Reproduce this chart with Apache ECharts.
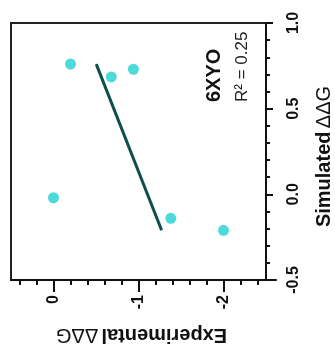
<!DOCTYPE html>
<html>
<head>
<meta charset="utf-8">
<script src="https://cdn.jsdelivr.net/npm/echarts@6/dist/echarts.min.js"></script>
<style>
html,body{margin:0;padding:0;background:#fff;}
#chart{width:335px;height:345px;}
</style>
</head>
<body>
<div id="chart"></div>
<script>
// Data
const experimental = [-0.2, -0.68, -0.94, 0, -1.38, -2.0];
const simulated    = [0.76, 0.685, 0.73, -0.02, -0.14, -0.21];
// regression line endpoints (experimental regressed on simulated)
const fitExperimental = [-0.503, -1.272];
const fitSimulated    = [0.76, -0.21];
// ticks
const expMajorTicks = [0, -1, -2];
const expMinorTicks = [0.4, 0.2, -0.2, -0.4, -0.6, -0.8, -1.2, -1.4, -1.6, -1.8, -2.2, -2.4];
const simTickInterval = 0.5;
const annotationTitle = '6XYO';
const annotationR2 = 'R\u00B2 = 0.25';

const FONT = '"Liberation Sans", Arial, sans-serif';
const chart = echarts.init(document.getElementById('chart'), null, {renderer: 'canvas'});

const points = experimental.map((e, i) => [e, simulated[i]]);
const fit = fitExperimental.map((e, i) => [e, fitSimulated[i]]);

const nameRich = {
  b: {fontFamily: FONT, fontWeight: 'bold', fontSize: 20, color: '#111'},
  n: {fontFamily: FONT, fontWeight: 'normal', fontSize: 20, color: '#111'}
};

chart.setOption({
  animation: false,
  backgroundColor: '#ffffff',
  grid: [
    {left: 11, top: 23, width: 255, height: 257, show: true, borderColor: '#222', borderWidth: 2,
      backgroundColor: 'transparent', containLabel: false, outerBoundsMode: 'none'},
    {left: 11, top: 23, width: 265, height: 257, show: false, containLabel: false, outerBoundsMode: 'none'}
  ],
  xAxis: [
    { // data axis for box grid, carries the name
      gridIndex: 0, type: 'value', inverse: true, min: -2.5, max: 0.5,
      axisLine: {show: false}, axisTick: {show: false}, axisLabel: {show: false}, splitLine: {show: false},
      name: '{b|Experimental} {n|\u0394\u0394G}', nameLocation: 'middle', nameGap: 45, nameRotate: 180,
      nameTextStyle: {rich: nameRich, padding: [0, 6, 0, 0]}
    },
    { // visible bottom axis (extends beyond box)
      gridIndex: 1, type: 'value', inverse: true, min: -2.62, max: 0.5,
      axisLine: {show: true, onZero: false, lineStyle: {color: '#111', width: 2}},
      axisTick: {show: true, customValues: expMajorTicks, length: 12, lineStyle: {color: '#111', width: 2}},
      axisLabel: {show: true, customValues: expMajorTicks, rotate: 90, margin: 15,
        fontFamily: FONT, fontWeight: 'bold', fontSize: 16, color: '#111',
        formatter: v => String(v)},
      splitLine: {show: false}
    },
    { // minor ticks
      gridIndex: 1, type: 'value', inverse: true, min: -2.62, max: 0.5, position: 'bottom',
      axisLine: {show: false, onZero: false},
      axisTick: {show: true, customValues: expMinorTicks, length: 5, lineStyle: {color: '#111', width: 2}},
      axisLabel: {show: false}, splitLine: {show: false}
    }
  ],
  yAxis: [
    {
      gridIndex: 0, type: 'value', position: 'right', min: -0.5, max: 1.0, interval: simTickInterval,
      axisLine: {show: true, onZero: false, lineStyle: {color: '#111', width: 2}},
      axisTick: {show: true, length: 7, lineStyle: {color: '#111', width: 2}},
      minorTick: {show: true, splitNumber: 5, length: 4, lineStyle: {color: '#111', width: 2}},
      axisLabel: {show: true, rotate: 90, margin: 20, fontFamily: FONT, fontWeight: 'bold', fontSize: 16, color: '#111',
        formatter: v => v.toFixed(1)},
      splitLine: {show: false}, minorSplitLine: {show: false},
      name: '{b|Simulated} {n|\u0394\u0394G}', nameLocation: 'middle', nameGap: 48, nameRotate: 90,
      nameTextStyle: {rich: nameRich, padding: [0, 10, 0, 0]}
    },
    {gridIndex: 1, type: 'value', show: false, min: -0.5, max: 1.0}
  ],
  graphic: [
    {type: 'text', x: 214, y: 102, rotation: Math.PI / 2,
      style: {text: annotationTitle, fontFamily: FONT, fontWeight: 'bold', fontSize: 20, fill: '#111', textAlign: 'left', textVerticalAlign: 'middle'}},
    {type: 'text', x: 242, y: 102, rotation: Math.PI / 2,
      style: {text: annotationR2, fontFamily: FONT, fontSize: 17, fill: '#222', textAlign: 'left', textVerticalAlign: 'middle'}}
  ],
  series: [
    {type: 'line', xAxisIndex: 0, yAxisIndex: 0, data: fit, symbol: 'none',
      lineStyle: {color: '#0e4f4b', width: 3}, z: 2},
    {type: 'scatter', xAxisIndex: 0, yAxisIndex: 0, data: points, symbolSize: 11,
      itemStyle: {color: '#1fd1d1'}, z: 3}
  ]
});
</script>
</body>
</html>
